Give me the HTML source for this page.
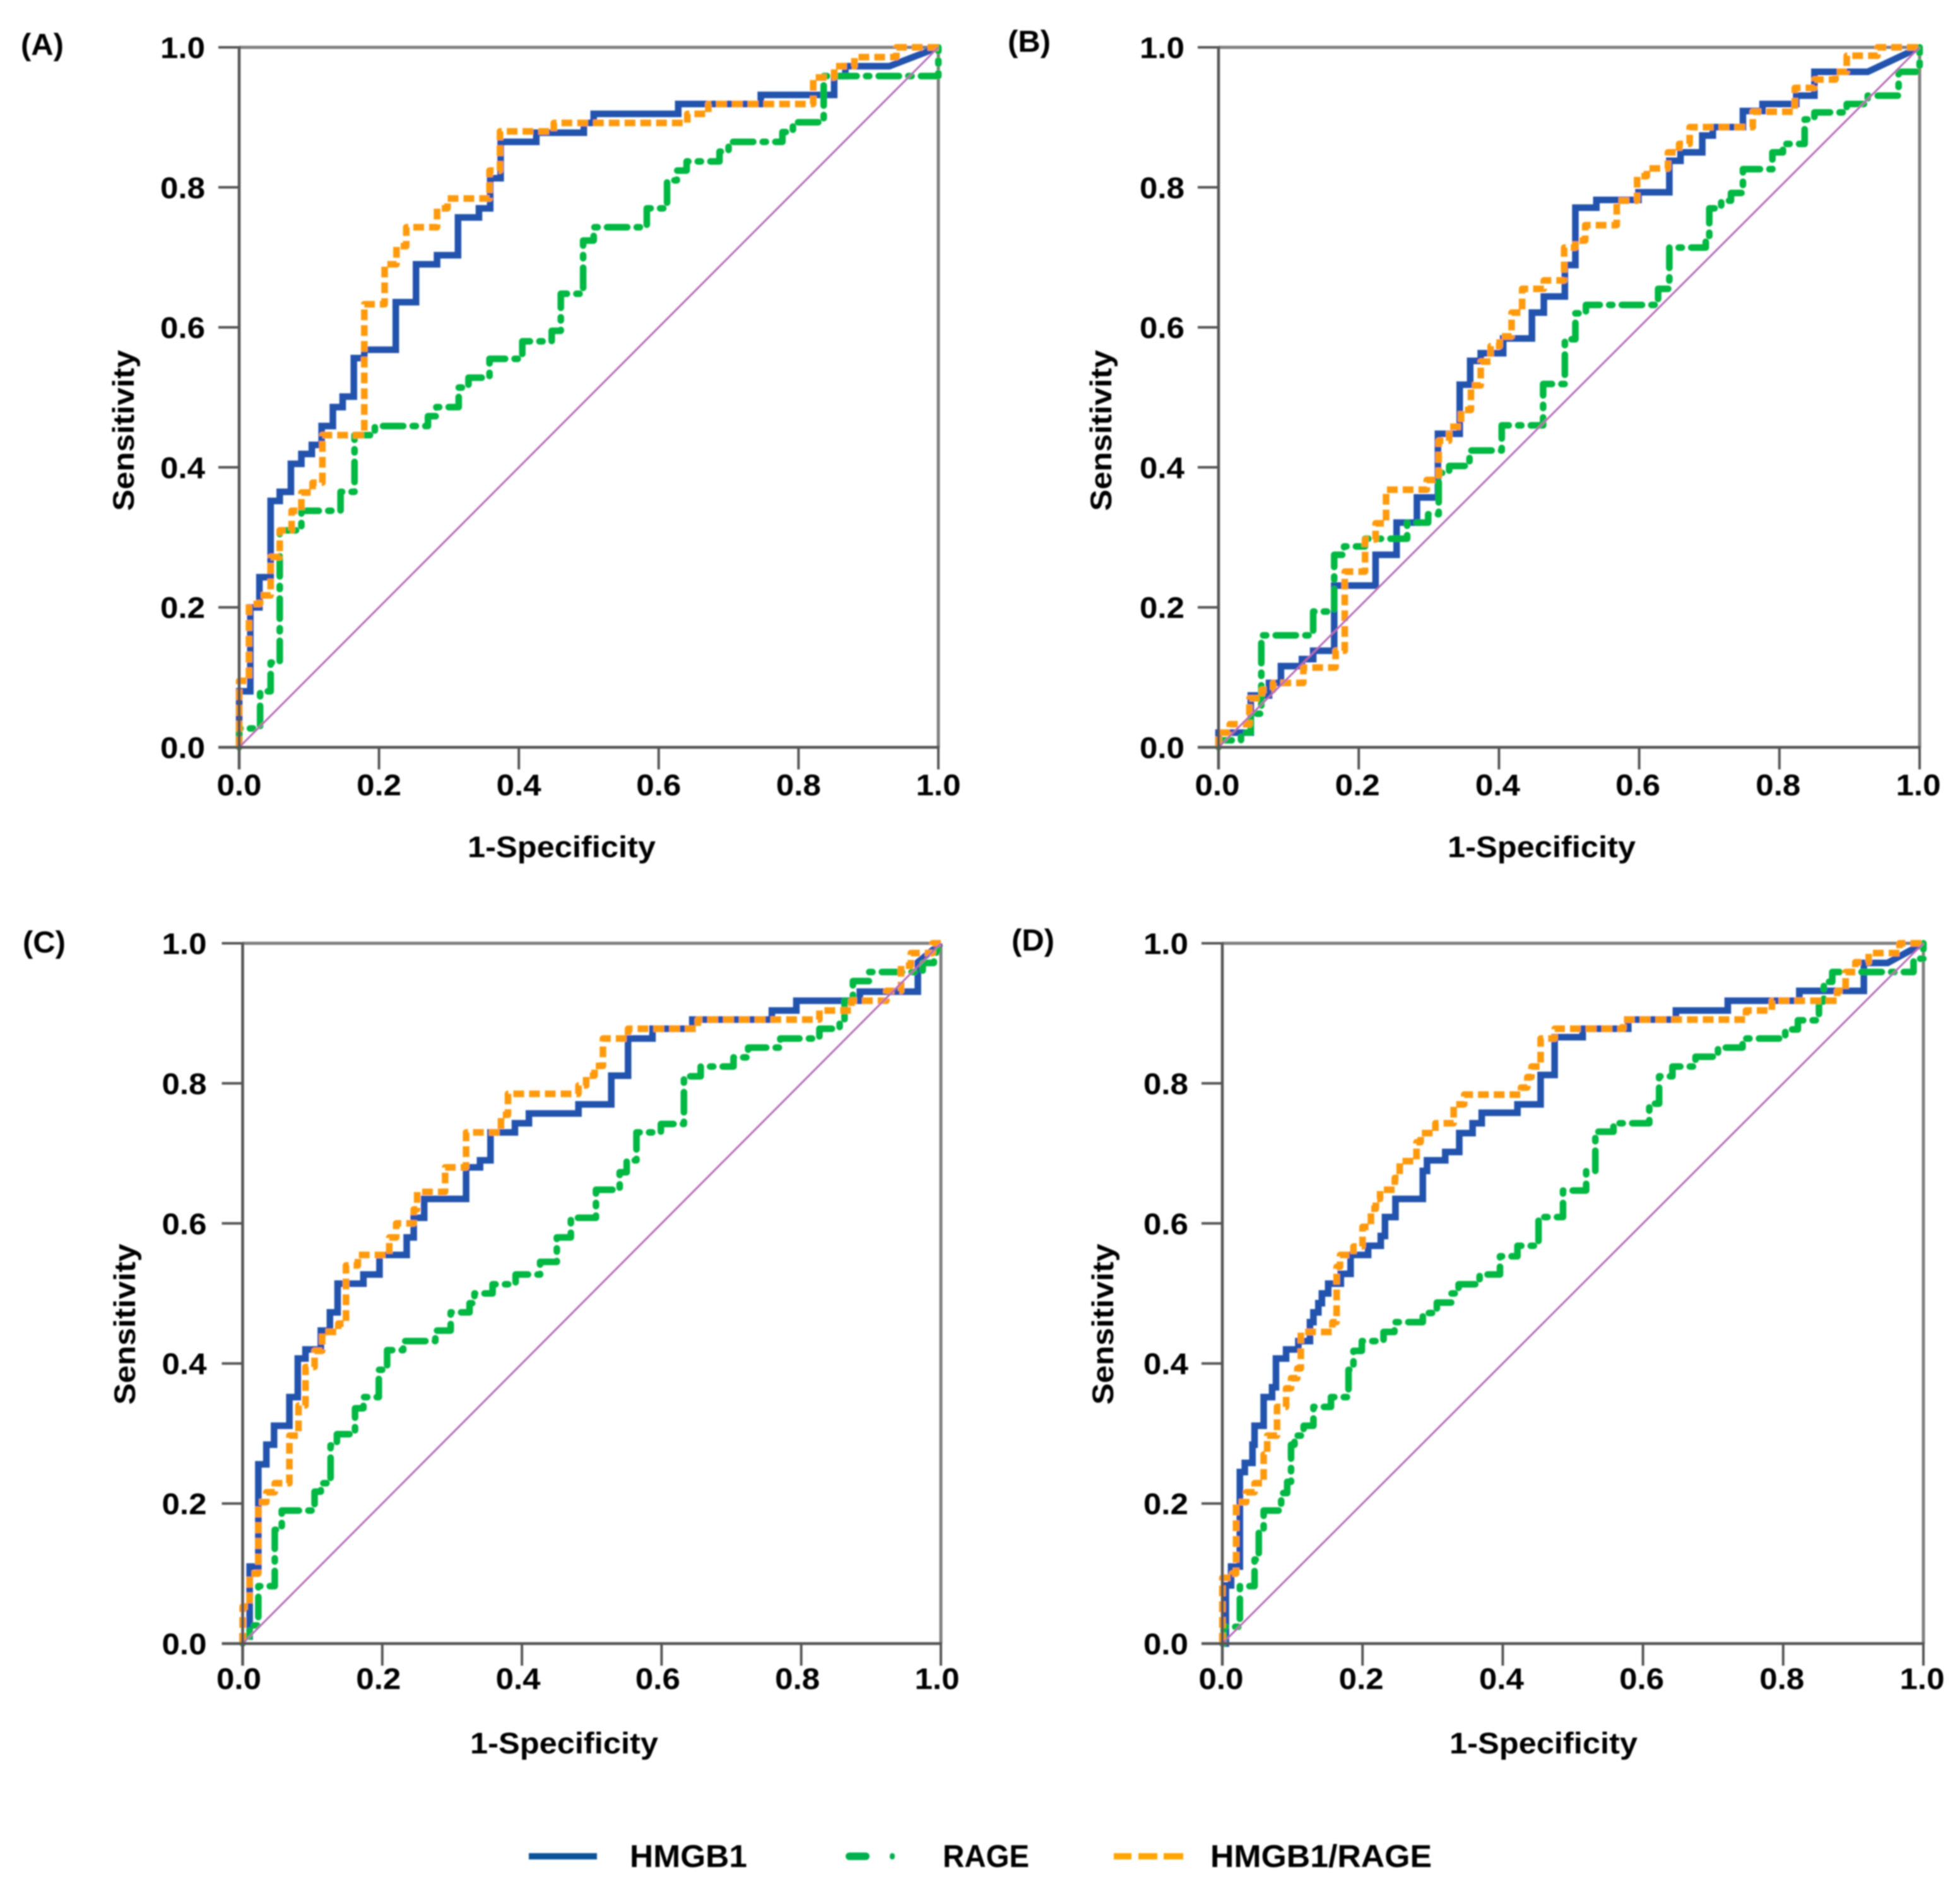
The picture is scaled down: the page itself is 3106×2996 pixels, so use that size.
<!DOCTYPE html>
<html lang="en">
<head>
<meta charset="utf-8">
<title>ROC curves</title>
<style>
html,body{margin:0;padding:0;background:#fff;}
svg{display:block;}
text{font-family:"Liberation Sans",sans-serif;font-weight:bold;fill:#000;}
</style>
</head>
<body>
<svg id="chart" xmlns="http://www.w3.org/2000/svg" width="3106" height="2996" viewBox="0 0 3106 2996">
<defs><filter id="soft" x="-2%" y="-2%" width="104%" height="104%"><feGaussianBlur stdDeviation="1.1"/></filter></defs>
<rect width="3106" height="2996" fill="#fff"/>
<g id="plots" filter="url(#soft)"></g>
<g filter="url(#soft)">
<rect x="838" y="2936" width="108" height="10" fill="#0a5299"/>
<text x="998" y="2958" font-size="50" textLength="186" lengthAdjust="spacingAndGlyphs">HMGB1</text>
<rect x="1340" y="2935" width="38" height="12" rx="6" fill="#00b050"/>
<rect x="1410" y="2936" width="8" height="10" rx="4" fill="#00b050"/>
<text x="1494" y="2958" font-size="50" textLength="137" lengthAdjust="spacingAndGlyphs">RAGE</text>
<rect x="1765" y="2936" width="28" height="10" fill="#ffa500"/>
<rect x="1804" y="2936" width="30" height="10" fill="#ffa500"/>
<rect x="1844" y="2936" width="31" height="10" fill="#ffa500"/>
<text x="1918" y="2958" font-size="50" textLength="351" lengthAdjust="spacingAndGlyphs">HMGB1/RAGE</text>
</g>
</svg>
<script>
// Shared axis data
const tickValues = [0, 0.2, 0.4, 0.6, 0.8, 1];
const tickLabels = ['0.0', '0.2', '0.4', '0.6', '0.8', '1.0'];
const xAxisTitle = '1-Specificity';
const yAxisTitle = 'Sensitivity';
const panelLetters = ['(A)', '(B)', '(C)', '(D)'];
const panelKeys = ['a', 'b', 'c', 'd'];

// Panel A: rise at x[i] to y[i], then hold to x[i+1]
const aHmgb1X = [0,.016,.029,.045,.058,.074,.089,.104,.118,.134,.148,.164,.179,.224,.253,.283,.313,.343,.359,.374,.425,.493,.507,.628,.746,.851,.867,.93];
const aHmgb1Y = [.08,.2,.243,.352,.365,.405,.419,.432,.459,.486,.501,.556,.568,.636,.69,.703,.757,.77,.813,.865,.878,.892,.905,.919,.932,.959,.973,.973];
const aRageX = [0,.03,.045,.058,.089,.145,.165,.194,.27,.282,.314,.328,.358,.405,.447,.46,.492,.507,.583,.612,.626,.64,.687,.70,.777,.792,.836,1];
const aRageY = [.027,.08,.121,.31,.338,.365,.446,.459,.473,.486,.514,.528,.555,.58,.595,.648,.724,.743,.77,.81,.824,.837,.851,.865,.879,.893,.959,1];
const aBothX = [0,.014,.03,.045,.058,.075,.089,.105,.119,.179,.208,.225,.239,.283,.298,.358,.373,.45,.641,.671,.821,.851,.88,.94];
const aBothY = [.095,.205,.217,.272,.31,.338,.364,.378,.446,.633,.69,.716,.743,.77,.784,.824,.88,.892,.905,.919,.957,.973,.986,1];

// Panel B
const bHmgb1X = [0,.046,.072,.089,.119,.135,.165,.224,.254,.283,.313,.344,.359,.374,.406,.447,.464,.494,.509,.539,.599,.643,.659,.69,.705,.748,.776,.824,.85,.926];
const bHmgb1Y = [.021,.074,.092,.116,.126,.138,.231,.275,.321,.357,.448,.518,.552,.563,.584,.621,.644,.689,.771,.782,.793,.838,.85,.874,.886,.909,.919,.931,.965,.965];
const bRageX = [0,.032,.046,.061,.135,.165,.179,.209,.269,.299,.314,.329,.358,.404,.463,.494,.509,.524,.627,.643,.695,.70,.717,.731,.748,.79,.805,.836,.85,.896,.926,.97,1];
const bRageY = [.01,.021,.048,.16,.194,.275,.287,.298,.321,.333,.392,.402,.424,.46,.519,.583,.62,.632,.655,.714,.724,.77,.781,.792,.826,.85,.862,.897,.907,.919,.931,.965,1];
const bBothX = [0,.016,.044,.062,.078,.121,.167,.18,.209,.224,.239,.297,.314,.329,.346,.36,.374,.388,.401,.418,.433,.464,.493,.509,.523,.568,.597,.611,.641,.657,.672,.762,.822,.85,.88,.896,.94];
const bBothY = [.021,.033,.07,.082,.092,.114,.138,.251,.297,.32,.368,.382,.438,.458,.482,.517,.551,.573,.587,.621,.655,.667,.714,.724,.746,.781,.816,.827,.85,.862,.886,.908,.942,.954,.965,.988,1];

// Panel C
const cHmgb1X = [0,.01,.0225,.034,.045,.067,.079,.09,.112,.125,.136,.173,.196,.235,.245,.26,.32,.34,.355,.39,.41,.481,.528,.552,.587,.644,.758,.793,.884,.967];
const cHmgb1Y = [.01,.11,.256,.284,.311,.352,.407,.42,.447,.473,.514,.527,.555,.58,.608,.635,.68,.69,.73,.743,.757,.77,.811,.864,.878,.891,.904,.918,.931,.973];
const cRageX = [0,.01,.0225,.046,.056,.103,.112,.126,.135,.161,.173,.195,.207,.23,.276,.298,.325,.332,.358,.391,.426,.45,.47,.506,.54,.55,.564,.599,.632,.656,.703,.724,.77,.826,.855,.862,.874,.897,.974,.99];
const cRageY = [.01,.026,.082,.1625,.19,.217,.229,.283,.299,.336,.352,.391,.419,.432,.447,.473,.486,.5,.513,.527,.545,.58,.608,.648,.673,.69,.73,.742,.81,.824,.837,.851,.864,.878,.891,.918,.946,.959,.972,.98];
const cBothX = [0,.01,.0225,.034,.046,.067,.08,.09,.103,.114,.137,.148,.165,.21,.22,.245,.25,.29,.32,.37,.38,.481,.492,.504,.516,.552,.652,.826,.872,.922,.943,.957,.988];
const cBothY = [.053,.10,.202,.216,.229,.297,.34,.395,.418,.445,.457,.54,.555,.58,.6,.62,.645,.68,.73,.755,.785,.797,.811,.825,.864,.878,.891,.904,.918,.932,.968,.986,1];

// Panel D
const dHmgb1X = [0,.005,.0125,.025,.032,.043,.046,.059,.071,.0765,.091,.1085,.125,.13,.137,.142,.151,.169,.183,.208,.226,.232,.247,.286,.292,.318,.338,.357,.37,.421,.454,.474,.514,.579,.647,.721,.823,.915,.949];
const dHmgb1Y = [0,.083,.11,.245,.258,.284,.311,.352,.366,.407,.42,.432,.459,.473,.486,.5,.514,.528,.555,.568,.582,.609,.635,.675,.69,.702,.729,.743,.758,.77,.812,.866,.878,.891,.904,.918,.932,.972,.972];
const dRageX = [0,.002,.025,.046,.052,.059,.084,.0925,.098,.103,.116,.13,.155,.18,.187,.199,.23,.2455,.286,.306,.327,.337,.367,.396,.421,.451,.486,.519,.532,.558,.609,.623,.642,.675,.707,.742,.803,.821,.851,.858,.87,.986,1];
const dRageY = [0,.024,.082,.12,.16,.19,.215,.231,.284,.297,.311,.338,.352,.391,.418,.432,.445,.459,.472,.487,.5,.513,.527,.553,.568,.609,.647,.675,.731,.743,.771,.81,.824,.838,.851,.864,.877,.89,.917,.945,.959,.978,1];
const dBothX = [0,.014,.0196,.034,.046,.059,.064,.078,.091,.098,.107,.112,.157,.163,.168,.187,.2,.212,.219,.225,.246,.253,.277,.283,.304,.33,.345,.426,.435,.441,.454,.474,.572,.747,.784,.877,.889,.903,.922,.966];
const dBothY = [.094,.1,.202,.216,.229,.27,.297,.338,.3645,.379,.393,.445,.459,.538,.555,.567,.595,.621,.635,.648,.665,.689,.716,.729,.743,.77,.784,.794,.809,.824,.864,.878,.891,.904,.918,.932,.959,.973,.986,1];

const panelSeries = {
  a: { hmgb1: [aHmgb1X, aHmgb1Y], rage: [aRageX, aRageY], combined: [aBothX, aBothY] },
  b: { hmgb1: [bHmgb1X, bHmgb1Y], rage: [bRageX, bRageY], combined: [bBothX, bBothY] },
  c: { hmgb1: [cHmgb1X, cHmgb1Y], rage: [cRageX, cRageY], combined: [cBothX, cBothY] },
  d: { hmgb1: [dHmgb1X, dHmgb1Y], rage: [dRageX, dRageY], combined: [dBothX, dBothY] }
};

const SVGNS = 'http://www.w3.org/2000/svg';
const root = document.getElementById('plots');

function frameFor(key) {
  if (key === 'a') return { left: 379, right: 1487, top: 75, bottom: 1184, letterX: 33, letterY: 87, titleX: 890, yTitleX: 212, yTitleY: 682, yLabelX: 325, xLabelY: 1260, xShift: 0 };
  if (key === 'b') return { left: 1931, right: 3042, top: 75, bottom: 1184, letterX: 1597, letterY: 82, titleX: 2443, yTitleX: 1761, yTitleY: 682, yLabelX: 1877, xLabelY: 1260, xShift: -2 };
  if (key === 'c') return { left: 384.5, right: 1491, top: 1494.5, bottom: 2604, letterX: 36, letterY: 1509, titleX: 894, yTitleX: 214, yTitleY: 2098, yLabelX: 327.5, xLabelY: 2676, xShift: -6 };
  return { left: 1937, right: 3048, top: 1494.5, bottom: 2604, letterX: 1603, letterY: 1506, titleX: 2446, yTitleX: 1764, yTitleY: 2098, yLabelX: 1883, xLabelY: 2676, xShift: -2 };
}

function make(tag, parent, attrs) {
  const el = document.createElementNS(SVGNS, tag);
  for (const k in attrs) el.setAttribute(k, attrs[k]);
  parent.appendChild(el);
  return el;
}

function stepPath(xs, ys, sx, sy) {
  let d = 'M' + sx(0) + ' ' + sy(0);
  const n = Math.min(xs.length, ys.length);
  for (let i = 0; i < n; i++) {
    d += 'V' + sy(ys[i]).toFixed(1);
    if (i + 1 < n) d += 'H' + sx(xs[i + 1]).toFixed(1);
  }
  d += 'L' + sx(1) + ' ' + sy(1);
  return d;
}

panelKeys.forEach(function (key, idx) {
  const f = frameFor(key);
  const sx = function (v) { return f.left + v * (f.right - f.left); };
  const sy = function (v) { return f.bottom - v * (f.bottom - f.top); };
  const g = make('g', root, {});
  
  

  const topLine = make('line', g, { x1: f.left, x2: f.right, y1: f.top, y2: f.top, stroke: '#808080', 'stroke-width': 5 });
  
  
  const rightLine = make('line', g, { x1: f.right, x2: f.right, y1: f.top, y2: f.bottom, stroke: '#808080', 'stroke-width': 5 });
  
  

  const hmgb1 = panelSeries[key].hmgb1;
  const blue = make('path', g, { d: stepPath(hmgb1[0], hmgb1[1], sx, sy), fill: 'none', stroke: '#2452ad', 'stroke-width': 10.5, 'stroke-linejoin': 'miter' });
  
  

  const rage = panelSeries[key].rage;
  const green = make('path', g, { d: stepPath(rage[0], rage[1], sx, sy), fill: 'none', stroke: '#00b843', 'stroke-width': 10.5, 'stroke-linecap': 'round', 'stroke-linejoin': 'round', 'stroke-dasharray': '32 15 5 15' });
  
  

  const combined = panelSeries[key].combined;
  const orange = make('path', g, { d: stepPath(combined[0], combined[1], sx, sy), fill: 'none', stroke: '#ff9a08', 'stroke-width': 10.5, 'stroke-linejoin': 'round', 'stroke-dasharray': '17 8' });
  
  

  const diag = make('line', g, { x1: sx(0), y1: sy(0), x2: sx(1), y2: sy(1), stroke: '#b56cb8', 'stroke-width': 3 });
  
  

  const yAxis = make('line', g, { x1: f.left, x2: f.left, y1: f.top - 2, y2: f.bottom + 35, stroke: '#555', 'stroke-width': 4.5 });
  
  
  const xAxis = make('line', g, { x1: f.left - 33, x2: f.right + 2, y1: f.bottom, y2: f.bottom, stroke: '#555', 'stroke-width': 4.5 });
  
  

  tickValues.forEach(function (v, i) {
    const xt = make('line', g, { x1: sx(v), x2: sx(v), y1: f.bottom, y2: f.bottom + 35, stroke: '#555', 'stroke-width': 4 });
    
    
    const yt = make('line', g, { x1: f.left - 33, x2: f.left, y1: sy(v), y2: sy(v), stroke: '#555', 'stroke-width': 4 });
    
    

    const xl = make('text', g, { x: sx(v) + f.xShift, y: f.xLabelY, 'font-size': 47, 'text-anchor': 'middle', textLength: 71, lengthAdjust: 'spacingAndGlyphs' });
    xl.textContent = tickLabels[i];
    
    
    const yl = make('text', g, { x: f.yLabelX, y: sy(v) + 17, 'font-size': 47, 'text-anchor': 'end', textLength: 71, lengthAdjust: 'spacingAndGlyphs' });
    yl.textContent = tickLabels[i];
    
    
  });

  const xt = make('text', g, { x: f.titleX, y: f.bottom + 174, 'font-size': 47, 'text-anchor': 'middle', textLength: 298, lengthAdjust: 'spacingAndGlyphs' });
  xt.textContent = xAxisTitle;
  
  

  const yTitle = make('text', g, { x: f.yTitleX, y: f.yTitleY, 'font-size': 47, 'text-anchor': 'middle', transform: 'rotate(-90 ' + f.yTitleX + ' ' + f.yTitleY + ')', textLength: 255, lengthAdjust: 'spacingAndGlyphs' });
  yTitle.textContent = yAxisTitle;
  
  

  const letter = make('text', g, { x: f.letterX, y: f.letterY, 'font-size': 48, textLength: 68, lengthAdjust: 'spacingAndGlyphs' });
  letter.textContent = panelLetters[idx];
  
  
});
</script>
</body>
</html>
